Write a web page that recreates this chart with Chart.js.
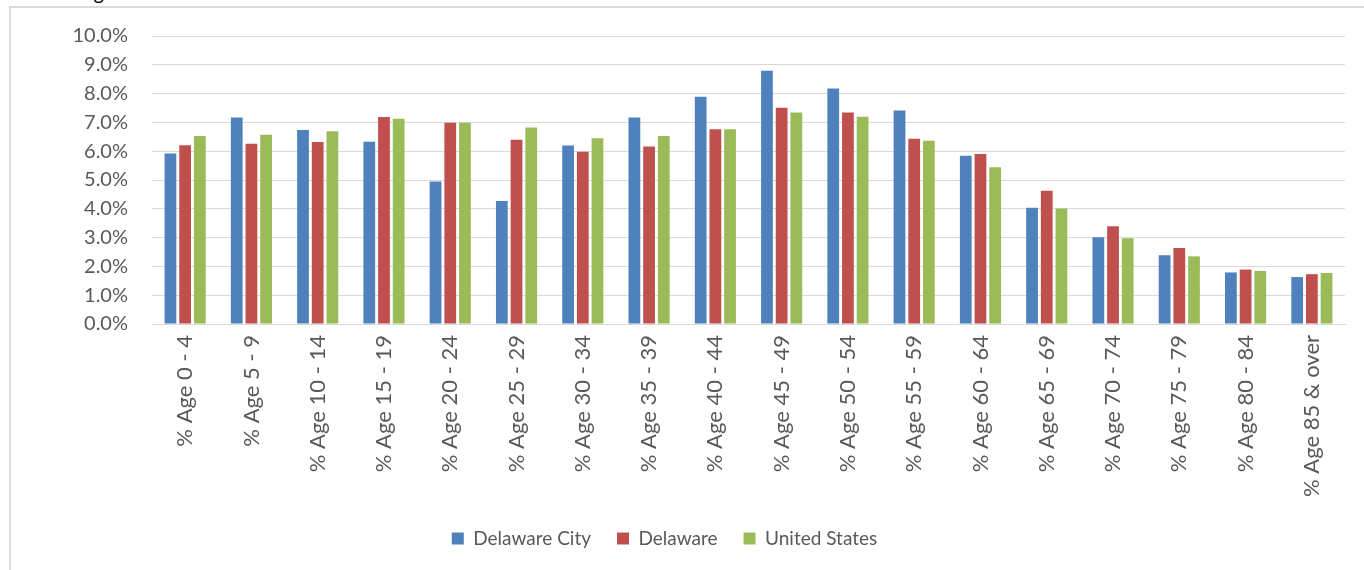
<!DOCTYPE html>
<html>
<head>
<meta charset="utf-8">
<script src="https://cdn.jsdelivr.net/npm/chart.js@4.4.1/dist/chart.umd.min.js"></script>
<style>
  html, body { margin: 0; padding: 0; background: #fff; overflow: hidden; }
  #wrap  { position: relative; width: 1364px; height: 570px; overflow: hidden; }
  #frame { position: absolute; left: 9px; top: 6px; width: 1400px; height: 600px;
           border-left: 2px solid #d9d9d9; border-top: 2px solid #d9d9d9; }
  #title { position: absolute; left: 80px; top: -20px; font: 20px/24px Lato, sans-serif; color: #000; }
  #chart { position: absolute; left: 0; top: 0; }
</style>
</head>
<body>
<div id="wrap">
  <div id="title">Age</div>
  <div id="frame"></div>
  <canvas id="chart" width="1364" height="570"></canvas>
</div>
<script>
const AGE_GROUPS = [
  '% Age 0 - 4', '% Age 5 - 9', '% Age 10 - 14', '% Age 15 - 19', '% Age 20 - 24',
  '% Age 25 - 29', '% Age 30 - 34', '% Age 35 - 39', '% Age 40 - 44', '% Age 45 - 49',
  '% Age 50 - 54', '% Age 55 - 59', '% Age 60 - 64', '% Age 65 - 69', '% Age 70 - 74',
  '% Age 75 - 79', '% Age 80 - 84', '% Age 85 & over'
];

const delawareCity = [5.92, 7.17, 6.74, 6.33, 4.95, 4.27, 6.20, 7.17, 7.89, 8.79, 8.18, 7.41, 5.84, 4.04, 3.01, 2.39, 1.79, 1.63];
const delaware     = [6.21, 6.26, 6.32, 7.19, 6.99, 6.40, 5.98, 6.16, 6.76, 7.51, 7.34, 6.43, 5.90, 4.63, 3.39, 2.64, 1.89, 1.73];
const unitedStates = [6.53, 6.57, 6.69, 7.13, 6.99, 6.82, 6.45, 6.53, 6.76, 7.34, 7.20, 6.36, 5.44, 4.01, 2.98, 2.35, 1.84, 1.77];

const SERIES_NAMES  = ['Delaware City', 'Delaware', 'United States'];
const SERIES_COLORS = ['#4f81bd', '#c0504d', '#9bbb59'];

const FONT  = 'Lato, "Liberation Sans", sans-serif';
const GREY  = '#595959';
const GRID  = '#d9d9d9';

const makeSet = (i, data) => ({
  label: SERIES_NAMES[i],
  data: data,
  backgroundColor: SERIES_COLORS[i],
  borderWidth: 0,
  barPercentage: 0.8,
  categoryPercentage: 0.665
});

// legend in the original sits a little left of the canvas centre
const nudgeLegend = {
  id: 'nudgeLegend',
  afterLayout(chart) {
    chart.legend.left  -= 8;
    chart.legend.right -= 8;
  }
};

new Chart(document.getElementById('chart'), {
  type: 'bar',
  data: {
    labels: AGE_GROUPS,
    datasets: [makeSet(0, delawareCity), makeSet(1, delaware), makeSet(2, unitedStates)]
  },
  plugins: [nudgeLegend],
  options: {
    responsive: false,
    animation: false,
    layout: { padding: { top: 35, right: 19, bottom: 12, left: 0 } },
    plugins: {
      tooltip: { enabled: false },
      legend: {
        position: 'bottom',
        labels: {
          boxWidth: 12, boxHeight: 12, padding: 26,
          color: GREY, font: { family: FONT, size: 19 }
        }
      }
    },
    scales: {
      x: {
        grid: { display: false, drawTicks: false },
        border: { color: GRID, width: 1 },
        ticks: {
          color: GREY, font: { family: FONT, size: 22 },
          minRotation: 90, maxRotation: 90, padding: 11, autoSkip: false
        },
        afterFit: (s) => { s.height = 179; }
      },
      y: {
        min: 0, max: 10,
        grid: { color: GRID, lineWidth: 1, drawTicks: false },
        border: { display: false },
        ticks: {
          stepSize: 1, padding: 24, color: GREY,
          font: { family: FONT, size: 20 },
          callback: (v) => v.toFixed(1) + '%'
        },
        afterFit: (s) => { s.width = 152; }
      }
    }
  }
});
</script>
</body>
</html>
